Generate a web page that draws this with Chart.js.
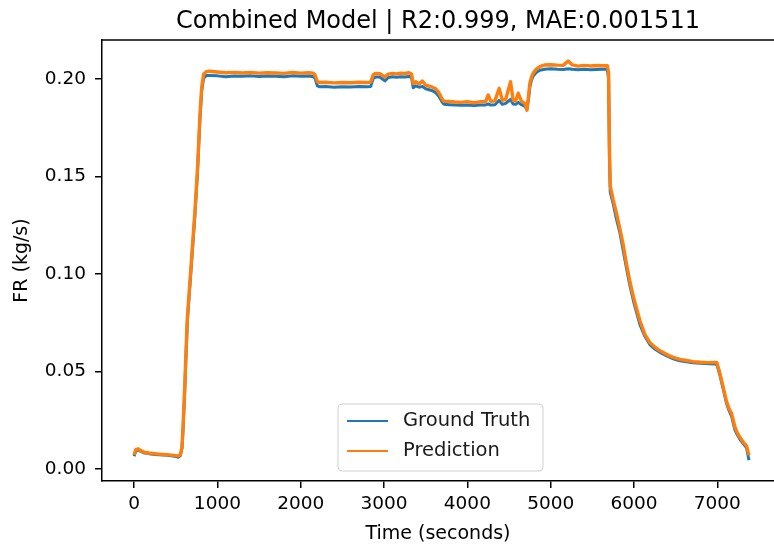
<!DOCTYPE html>
<html>
<head>
<meta charset="utf-8">
<script src="https://cdn.jsdelivr.net/npm/chart.js@4.4.1/dist/chart.umd.min.js"></script>
<style>
  html, body { margin: 0; padding: 0; background: #ffffff; overflow: hidden; }
  canvas { display: block; }
</style>
</head>
<body>
<canvas id="c" width="774" height="547"></canvas>
<script>
// ---- data ----
const times = [
  0, 20, 50, 80, 120, 160, 200, 250, 300, 350, 400, 450, 500, 530, 555, 575, 590, 609, 625, 640, 670, 700, 730, 760, 790, 812, 835, 870,
  900, 1000, 1100, 1200, 1300, 1400, 1500, 1600, 1700, 1800, 1900, 2000, 2100, 2150,
  2170, 2200, 2230, 2300, 2400, 2500, 2600, 2700, 2800, 2840,
  2870, 2900, 2950, 3010, 3050, 3100, 3150, 3200, 3250, 3300, 3330,
  3350, 3380, 3420, 3460, 3500, 3540, 3580, 3620, 3650, 3680, 3700, 3720,
  3780, 3850, 3920, 4000, 4080, 4150, 4220, 4250, 4280, 4330, 4382, 4420, 4460, 4518, 4550, 4580, 4610, 4650, 4690, 4715,
  4735, 4750, 4770, 4790, 4830, 4870, 4930,
  5000, 5080, 5150, 5210, 5260, 5330, 5400, 5480, 5550, 5620, 5680,
  5695, 5705, 5715, 5750, 5790, 5831, 5870, 5910, 5951, 6000, 6071, 6130, 6190, 6250, 6311, 6400, 6471, 6550,
  6630, 6711, 6800, 6900, 6970, 6995, 7031, 7070, 7111, 7140, 7171, 7211, 7240, 7271, 7310, 7351, 7370, 7380
];

const groundTruth = [
  0.0065, 0.0092, 0.0097, 0.0090, 0.0082, 0.0080, 0.0076, 0.0074, 0.0072, 0.0071, 0.0070, 0.0068, 0.0064, 0.0060, 0.0068, 0.0105, 0.022, 0.041, 0.060, 0.076, 0.094, 0.112, 0.130, 0.151, 0.179, 0.194, 0.2005, 0.2018,
  0.2018, 0.2016, 0.2012, 0.2015, 0.2014, 0.2016, 0.2013, 0.2015, 0.2014, 0.2012, 0.2016, 0.2014, 0.2015, 0.2012,
  0.2005, 0.1965, 0.1960, 0.1961, 0.1958, 0.1960, 0.1959, 0.1961, 0.1960, 0.1962,
  0.2003, 0.2010, 0.2010, 0.1990, 0.2008, 0.2011, 0.2009, 0.2012, 0.2010, 0.2013, 0.2008,
  0.1955, 0.1965, 0.1958, 0.1962, 0.1950, 0.1945, 0.1940, 0.1930, 0.1915, 0.1895, 0.1880, 0.1870,
  0.1868, 0.1866, 0.1865, 0.1867, 0.1864, 0.1866, 0.1867, 0.1872, 0.1866, 0.1868, 0.1890, 0.1870, 0.1875, 0.1895, 0.1872, 0.1870, 0.1880, 0.1868, 0.1860, 0.1845,
  0.1900, 0.1960, 0.1995, 0.2015, 0.2035, 0.2045, 0.2050,
  0.2052, 0.2050, 0.2049, 0.2053, 0.2050, 0.2047, 0.2050, 0.2048, 0.2049, 0.2050, 0.2050,
  0.200, 0.160, 0.142, 0.136, 0.128, 0.121, 0.112, 0.103, 0.094, 0.085, 0.074, 0.068, 0.0638, 0.0615, 0.0598, 0.0578, 0.0565, 0.0555,
  0.0550, 0.0545, 0.0542, 0.0540, 0.0538, 0.0535, 0.0480, 0.0410, 0.0335, 0.0300, 0.0270, 0.0200, 0.0175, 0.0152, 0.0130, 0.0108, 0.0065, 0.0045
];

const prediction = [
  0.0072, 0.0099, 0.0103, 0.0094, 0.0086, 0.0083, 0.0080, 0.0078, 0.0076, 0.0074, 0.0073, 0.0071, 0.0068, 0.0066, 0.0073, 0.0112, 0.024, 0.043, 0.062, 0.078, 0.096, 0.114, 0.132, 0.153, 0.181, 0.196, 0.2025, 0.2038,
  0.2040, 0.2036, 0.2032, 0.2034, 0.2031, 0.2033, 0.2030, 0.2032, 0.2031, 0.2029, 0.2033, 0.2030, 0.2032, 0.2030,
  0.2022, 0.1986, 0.1982, 0.1983, 0.1980, 0.1982, 0.1981, 0.1983, 0.1982, 0.1984,
  0.2022, 0.2029, 0.2027, 0.2010, 0.2025, 0.2029, 0.2026, 0.2030, 0.2028, 0.2032, 0.2026,
  0.1976, 0.1986, 0.1975, 0.1990, 0.1968, 0.1963, 0.1958, 0.1950, 0.1935, 0.1912, 0.1895, 0.1886,
  0.1885, 0.1882, 0.1880, 0.1884, 0.1878, 0.1883, 0.1885, 0.1918, 0.1886, 0.1888, 0.1952, 0.1890, 0.1895, 0.1986, 0.1890, 0.1888, 0.1927, 0.1885, 0.1875, 0.1840,
  0.1920, 0.1978, 0.2010, 0.2030, 0.2052, 0.2063, 0.2072,
  0.2073, 0.2071, 0.2070, 0.2092, 0.2072, 0.2066, 0.2070, 0.2067, 0.2069, 0.2068, 0.2068,
  0.203, 0.165, 0.145, 0.138, 0.131, 0.123, 0.115, 0.105, 0.096, 0.087, 0.076, 0.069, 0.0648, 0.0625, 0.0606, 0.0585, 0.0572, 0.0562,
  0.0556, 0.0550, 0.0547, 0.0545, 0.0546, 0.0545, 0.0490, 0.0420, 0.0345, 0.0310, 0.0285, 0.0215, 0.0185, 0.0162, 0.0138, 0.0118, 0.0085, 0.0070
];

const xTickValues = [0, 1000, 2000, 3000, 4000, 5000, 6000, 7000];
const yTickValues = [0.00, 0.05, 0.10, 0.15, 0.20];
const seriesNames = ['Ground Truth', 'Prediction'];
const seriesColors = ['#1f77b4', '#ff7f0e'];
const titleText = 'Combined Model | R2:0.999, MAE:0.001511';
const xLabel = 'Time (seconds)';
const yLabel = 'FR (kg/s)';

// ---- chart ----
const FONT = 'DejaVu Sans';

const framePlugin = {
  id: 'frame',
  afterDatasetsDraw(chart) {
    const { ctx, chartArea: a } = chart;
    ctx.save();
    ctx.strokeStyle = '#000';
    ctx.lineWidth = 1.5;
    ctx.beginPath();
    ctx.moveTo(a.left, a.top);
    ctx.lineTo(a.right + 2, a.top);
    ctx.stroke();
    ctx.restore();

    // legend (matplotlib style, inside axes, lower center)
    const bx = 338, by = 404, bw = 205, bh = 67, r = 4;
    ctx.save();
    ctx.beginPath();
    ctx.moveTo(bx + r, by);
    ctx.lineTo(bx + bw - r, by);
    ctx.arcTo(bx + bw, by, bx + bw, by + r, r);
    ctx.lineTo(bx + bw, by + bh - r);
    ctx.arcTo(bx + bw, by + bh, bx + bw - r, by + bh, r);
    ctx.lineTo(bx + r, by + bh);
    ctx.arcTo(bx, by + bh, bx, by + bh - r, r);
    ctx.lineTo(bx, by + r);
    ctx.arcTo(bx, by, bx + r, by, r);
    ctx.closePath();
    ctx.fillStyle = 'rgba(255,255,255,0.8)';
    ctx.fill();
    ctx.strokeStyle = '#d0d0d0';
    ctx.lineWidth = 1;
    ctx.stroke();
    ctx.font = '19.5px "' + FONT + '"';
    ctx.textBaseline = 'middle';
    ctx.textAlign = 'left';
    chart.data.datasets.forEach((ds, i) => {
      const yy = by + 17 + i * 30;
      ctx.strokeStyle = ds.borderColor;
      ctx.lineWidth = 2.2;
      ctx.beginPath();
      ctx.moveTo(bx + 9, yy);
      ctx.lineTo(bx + 50, yy);
      ctx.stroke();
      ctx.fillStyle = '#1a1a1a';
      ctx.fillText(ds.label, bx + 65, yy);
    });
    ctx.restore();
  }
};

const bgPlugin = {
  id: 'bg',
  beforeDraw(chart) {
    const ctx = chart.ctx;
    ctx.save();
    ctx.fillStyle = '#fff';
    ctx.fillRect(0, 0, chart.width, chart.height);
    ctx.restore();
  }
};

new Chart(document.getElementById('c'), {
  type: 'line',
  data: {
    datasets: [
      {
        label: seriesNames[0],
        data: times.map((t, i) => ({ x: t, y: groundTruth[i] })),
        borderColor: seriesColors[0],
        backgroundColor: seriesColors[0],
        borderWidth: 3,
        pointRadius: 0,
        tension: 0,
        borderJoinStyle: 'round',
        order: 1
      },
      {
        label: seriesNames[1],
        data: times.map((t, i) => ({ x: t, y: prediction[i] })),
        borderColor: seriesColors[1],
        backgroundColor: seriesColors[1],
        borderWidth: 3.4,
        pointRadius: 0,
        tension: 0,
        borderJoinStyle: 'round',
        order: 0
      }
    ]
  },
  options: {
    responsive: false,
    animation: false,
    devicePixelRatio: 1,
    layout: { padding: { left: 0, right: 0, top: 0, bottom: 0 } },
    plugins: {
      legend: { display: false },
      tooltip: { enabled: false },
      title: {
        display: true,
        text: titleText,
        fullSize: false,
        color: '#000',
        font: { family: FONT, size: 24, weight: 'normal' },
        padding: { top: 7.6, bottom: 3.6 }
      }
    },
    scales: {
      x: {
        type: 'linear',
        min: -385,
        max: 7680,
        offset: false,
        afterBuildTicks(scale) { scale.ticks = xTickValues.map(v => ({ value: v })); },
        afterFit(scale) { scale.height = 66; },
        ticks: {
          autoSkip: false,
          maxRotation: 0,
          padding: 5,
          color: '#000',
          font: { family: FONT, size: 18.5 },
          callback: v => String(v)
        },
        grid: { display: true, drawOnChartArea: false, drawTicks: true, tickLength: 7, color: '#000', lineWidth: 1.5 },
        border: { display: true, color: '#000', width: 1.5 },
        title: {
          display: true,
          text: xLabel,
          color: '#000',
          font: { family: FONT, size: 19 },
          padding: { top: 0, bottom: 2 }
        }
      },
      y: {
        type: 'linear',
        min: -0.0062,
        max: 0.22,
        afterBuildTicks(scale) { scale.ticks = yTickValues.map(v => ({ value: v })); },
        afterFit(scale) { scale.width = 102; },
        ticks: {
          padding: 9,
          color: '#000',
          font: { family: FONT, size: 18.5 },
          callback: v => Number(v).toFixed(2)
        },
        grid: { display: true, drawOnChartArea: false, drawTicks: true, tickLength: 7, color: '#000', lineWidth: 1.5 },
        border: { display: true, color: '#000', width: 1.5 },
        title: {
          display: true,
          text: yLabel,
          color: '#000',
          font: { family: FONT, size: 19 },
          padding: { top: 11, bottom: 0 }
        }
      }
    }
  },
  plugins: [bgPlugin, framePlugin]
});
</script>
</body>
</html>
